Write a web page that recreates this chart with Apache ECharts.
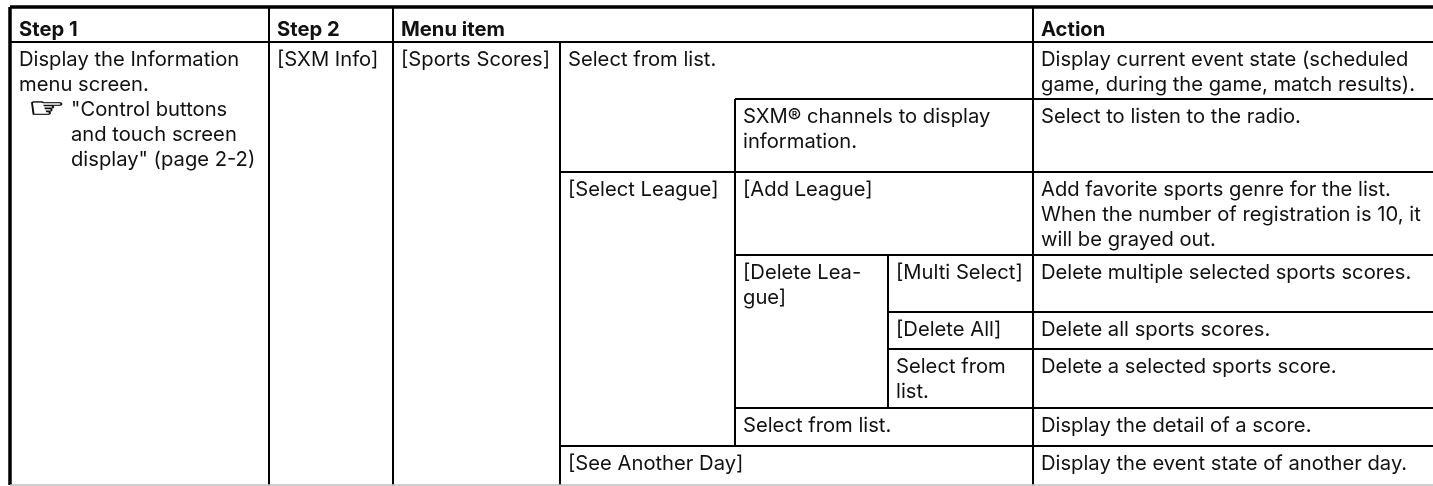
<!DOCTYPE html>
<html><head><meta charset="utf-8">
<style>html,body{margin:0;padding:0;background:#fff}#c{width:1433px;height:486px}</style>
<script src="https://cdn.jsdelivr.net/npm/echarts@6/dist/echarts.min.js"></script>
</head><body><div id="c"></div>
<script>
const colEdges = [10,269,393,560,735,888,1033,1433];
const rowEdges = [7,42,99,172,255,312,349,408,446,485];
// rules: edge index, from index, to index
const hRules = [[0,0,7],[1,0,7],[2,4,7],[3,3,7],[4,4,7],[5,5,7],[6,5,7],[7,4,7],[8,3,7]];
const vRules = [[0,0,9],[1,0,9],[2,0,9],[3,1,9],[4,2,8],[5,4,7],[6,0,9]];
const headerCells = [[0,'Step 1'],[1,'Step 2'],[2,'Menu item'],[6,'Action']];
// cells: column, row, text lines
const bodyCells = [
 [0,1,['Display the Information','menu screen.']],
 [1,1,['[SXM Info]']],
 [2,1,['[Sports Scores]']],
 [3,1,['Select from list.']],
 [6,1,['Display current event state (scheduled','game, during the game, match results).']],
 [4,2,['SXM® channels to display','information.']],
 [6,2,['Select to listen to the radio.']],
 [3,3,['[Select League]']],
 [4,3,['[Add League]']],
 [6,3,['Add favorite sports genre for the list.','When the number of registration is 10, it','will be grayed out.']],
 [4,4,['[Delete Lea-','gue]']],
 [5,4,['[Multi Select]']],
 [6,4,['Delete multiple selected sports scores.']],
 [5,5,['[Delete All]']],
 [6,5,['Delete all sports scores.']],
 [5,6,['Select from','list.']],
 [6,6,['Delete a selected sports score.']],
 [4,7,['Select from list.']],
 [6,7,['Display the detail of a score.']],
 [3,8,['[See Another Day]']],
 [6,8,['Display the event state of another day.']]
];
const refLines = ['"Control buttons','and touch screen','display" (page 2-2)'];
const refIcon = '\u261E';

const FONT = 'Inter, "Noto Sans", sans-serif';
const SIZE = 20.2, PITCH = 25, PAD = 8, BASE = 17.5;
const rules = [];
hRules.forEach(r => rules.push({x0:colEdges[r[1]],x1:colEdges[r[2]],y0:rowEdges[r[0]],y1:rowEdges[r[0]],w:r[0]===0?3.5:2,c:'#000'}));
vRules.forEach(r => rules.push({x0:colEdges[r[0]],x1:colEdges[r[0]],y0:rowEdges[r[1]],y1:rowEdges[r[2]],w:r[0]===0?3.5:2,c:'#000'}));
rules.push({x0:colEdges[0],x1:colEdges[7],y0:rowEdges[9],y1:rowEdges[9],w:1.5,c:'#bdbdbd'});

const texts = [];
headerCells.forEach(h => texts.push({x:colEdges[h[0]]+(h[0]===0?9:PAD),y:rowEdges[0]+22.7,t:h[1],b:true}));
bodyCells.forEach(c => c[2].forEach((t,i) => texts.push({x:colEdges[c[0]]+(c[0]===0?9:PAD),y:rowEdges[c[1]]+BASE+i*PITCH,t})));
refLines.forEach((t,i) => texts.push({x:colEdges[0]+61,y:rowEdges[1]+BASE+(i+2)*PITCH,t}));

const chart = echarts.init(document.getElementById('c'),null,{renderer:'canvas'});
chart.setOption({
 animation:false,
 backgroundColor:'#fff',
 grid:{left:0,right:0,top:0,bottom:0},
 xAxis:{type:'value',min:0,max:1433,show:false},
 yAxis:{type:'value',min:0,max:486,inverse:true,show:false},
 series:[
  {type:'custom',silent:true,clip:false,data:rules.map((r,i)=>[r.x0,r.y0,r.x1,r.y1,i]),
   renderItem(p,api){
    const a=api.coord([api.value(0),api.value(1)]),b=api.coord([api.value(2),api.value(3)]),r=rules[api.value(4)];
    return {type:'line',shape:{x1:a[0],y1:a[1],x2:b[0],y2:b[1]},style:{stroke:r.c,lineWidth:r.w}};
   }},
  {type:'custom',silent:true,clip:false,data:texts.map((r,i)=>[r.x,r.y,i]),
   renderItem(p,api){
    const a=api.coord([api.value(0),api.value(1)]),r=texts[api.value(2)];
    return {type:'text',style:{x:a[0],y:a[1],text:r.t,fill:'#111',font:(r.b?'700 ':'400 ')+SIZE+'px '+FONT,align:'left',verticalAlign:'middle'}};
   }},
  {type:'custom',silent:true,clip:false,data:[[colEdges[0]+18,rowEdges[1]+BASE+2*PITCH]],
   renderItem(p,api){
    const a=api.coord([api.value(0),api.value(1)]);
    return {type:'text',x:a[0],y:a[1],scaleX:1.55,style:{x:0,y:0,text:refIcon,fill:'#111',stroke:'#111',lineWidth:0.7,font:'400 27px "DejaVu Sans"',align:'left',verticalAlign:'middle'}};
   }}
 ]
});
</script></body></html>
